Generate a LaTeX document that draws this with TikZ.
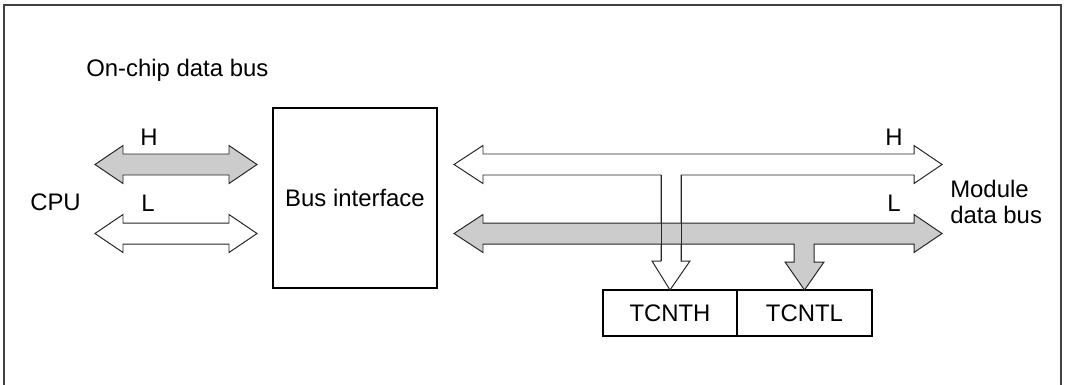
\documentclass[tikz,border=0pt]{standalone}
\usepackage{fontspec}
\setmainfont{Liberation Sans}
\usepackage{xcolor}
\usepackage{tikz}
\definecolor{busgray}{HTML}{CCCCCC}
\tikzset{
  bbframe/.style={line width=1.2pt, draw=black!75},
  bbblock/.style={draw=black, line width=0.8pt, fill=white, inner sep=0pt, outer sep=0pt},
  bbwide/.style={fill=white, draw=black!85, line width=0.7pt, line join=miter},
  bbgray/.style={fill=busgray, draw=black!85, line width=0.7pt, line join=miter},
  bbline/.style={draw=black!85, line width=0.7pt},
  bbtext/.style={inner sep=0pt, font=\fontsize{17}{17.8}\selectfont},
}
\begin{document}
\begin{tikzpicture}[x=0.025cm,y=-0.025cm]
\useasboundingbox (0,0) rectangle (1066,384);
% outer frame, open at the bottom
\draw[bbframe] (4,400) -- (4,5) -- (1061,5) -- (1061,400);
% labels
\node[bbtext, anchor=base west] (onchip) at (86,76) {On-chip data bus};
\node[bbtext, anchor=base west] (cpu) at (30,210) {CPU};
\node[bbtext, anchor=base west] (hleft) at (140,145) {H};
\node[bbtext, anchor=base west] (lleft) at (141,211) {L};
\node[bbtext, anchor=base west] (hright) at (885,145) {H};
\node[bbtext, anchor=base west] (lright) at (887,211) {L};
\node[bbtext, anchor=base west, align=left] (module) at (950,223) {Module\\data bus};
% blocks
\node[bbblock, bbtext, minimum width=4.1cm, minimum height=4.5cm] (busif) at (355,198) {Bus interface};
\node[bbblock, bbtext, minimum width=3.35cm, minimum height=1.15cm] (tcnth) at (670,313) {TCNTH};
\node[bbblock, bbtext, minimum width=3.375cm, minimum height=1.15cm] (tcntl) at (804.5,313) {TCNTL};
% CPU side buses
\draw[bbgray] (95,164.5) -- (123,145.5) -- (123,154) -- (229,154) -- (229,145.5) -- (257,164.5)
  -- (229,183.5) -- (229,175) -- (123,175) -- (123,183.5) -- cycle;
\draw[bbwide] (95,233.5) -- (123,214.5) -- (123,223) -- (229,223) -- (229,214.5) -- (257,233.5)
  -- (229,252.5) -- (229,244) -- (123,244) -- (123,252.5) -- cycle;
% module side, H bus with branch to TCNTH
\draw[bbwide] (454,164.5) -- (483,145.5) -- (483,154) -- (914,154) -- (914,145.5) -- (942,164.5)
  -- (914,183.5) -- (914,175) -- (681,175) -- (681,261) -- (690,261) -- (tcnth.north)
  -- (652,261) -- (661,261) -- (661,175) -- (483,175) -- (483,183.5) -- cycle;
% module side, L bus with branch to TCNTL
\draw[bbgray] (454,233.5) -- (483,214.5) -- (483,223) -- (914,223) -- (914,214.5) -- (942,233.5)
  -- (914,252.5) -- (914,244) -- (814,244) -- (814,262) -- (824,262) -- (tcntl.north)
  -- (785,262) -- (794,262) -- (794,244) -- (483,244) -- (483,252.5) -- cycle;
% H branch runs over the L bus
\draw[bbline] (661,175) -- (661,261);
\draw[bbline] (681,175) -- (681,261);
\end{tikzpicture}
\end{document}
